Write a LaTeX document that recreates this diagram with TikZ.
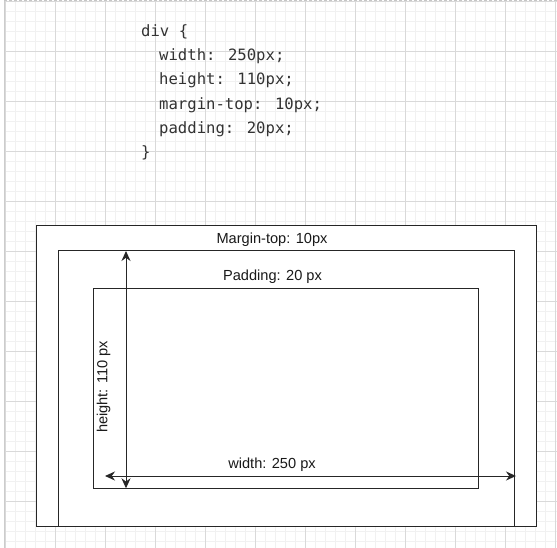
\documentclass[tikz,border=0pt]{standalone}
\usepackage{fontspec}
\setmainfont{Liberation Sans}
\newfontfamily\codefont{DejaVu Sans Mono}
\usetikzlibrary{arrows.meta}
\tikzset{
  minorline/.style={draw=gray!11, line width=0.8pt},
  majorline/.style={draw=gray!30, line width=0.8pt},
  box/.style={draw=black!85, line width=1pt, fill=white, inner sep=0, outer sep=0},
  codeline/.style={anchor=base west, inner sep=0, font=\codefont\fontsize{15.6}{18}\selectfont, text=black!80},
  lbl/.style={inner sep=0, font=\fontsize{14.6}{17}\selectfont, text=black!90},
  dim/.style={draw=black!85, line width=1pt, {Stealth[length=10pt,width=9pt]}-{Stealth[length=10pt,width=9pt]}}
}
\begin{document}
\begin{tikzpicture}[x=1pt, y=-1pt]
\useasboundingbox (0,0) rectangle (557,548);
\fill[white] (0,0) rectangle (557,548);
% grid
\foreach \i in {0,...,55} {
  \draw[minorline] (4,\i*10+1.7) -- (557,\i*10+1.7);
}
\foreach \i in {0,...,55} {
  \draw[minorline] (\i*10+5,1) -- (\i*10+5,548);
}
\foreach \i in {0,...,11} {
  \draw[majorline] (4,\i*50+1.7) -- (557,\i*50+1.7);
}
\foreach \i in {0,...,11} {
  \draw[majorline] (\i*50+5,1) -- (\i*50+5,548);
}
\draw[gray!40, line width=1pt] (4,1) -- (4,548);
\draw[gray!45, line width=1pt, dash pattern=on 3pt off 2pt] (4,1) -- (557,1);
% code
\node[codeline] (c1) at (141,36.6) {div \{};
\node[codeline] (c2) at (159,60.8) {width: 250px;};
\node[codeline] (c3) at (159,85.0) {height: 110px;};
\node[codeline] (c4) at (159,109.2) {margin-top: 10px;};
\node[codeline] (c5) at (159,133.4) {padding: 20px;};
\node[codeline] (c6) at (141,157.6) {\}};
% boxes
\node[box, minimum width=500pt, minimum height=300pt] (outer) at (286,376) {};
\node[box, minimum width=456pt, minimum height=275pt] (middle) at (286,388.5) {};
\node[box, minimum width=385pt, minimum height=200pt] (inner) at (285.5,388.3) {};
% labels
\node[lbl] (mlbl) at (272,239.5) {Margin-top: 10px};
\node[lbl] (plbl) at (272.5,276.5) {Padding: 20 px};
\node[lbl] (wlbl) at (272,464.5) {width: 250 px};
\node[lbl, rotate=90] (hlbl) at (103.5,387) {height: 110 px};
% dimension arrows
\coordinate (vtop) at (126,251);
\coordinate (vbot) at (126,488.3);
\coordinate (hleft) at (105,476);
\coordinate (hright) at (516,476);
\draw[dim] (hleft) -- (hright);
\draw[dim] (vtop) -- (vbot);
\end{tikzpicture}
\end{document}
